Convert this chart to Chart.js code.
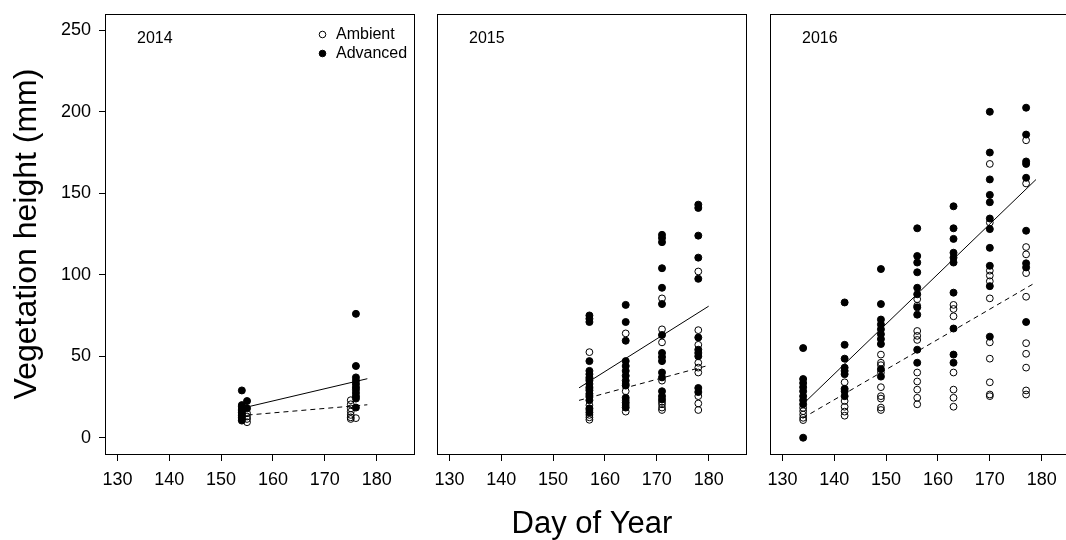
<!DOCTYPE html>
<html>
<head>
<meta charset="utf-8">
<script src="https://cdn.jsdelivr.net/npm/chart.js@4.4.1/dist/chart.umd.min.js"></script>
<style>
html, body { margin: 0; padding: 0; background: #fff; overflow: hidden; }
#wrap { position: relative; width: 1066px; height: 540px; overflow: hidden; }
canvas { position: absolute; top: 0; }
</style>
</head>
<body>
<div id="wrap">
	<canvas id="panel_2014" width="422" height="540" style="left:0px"></canvas>
	<canvas id="panel_2015" width="338" height="540" style="left:422px"></canvas>
	<canvas id="panel_2016" width="330" height="540" style="left:760px"></canvas>
</div>
<script>
var dayTicks = [130, 140, 150, 160, 170, 180];
var heightTicks = [0, 50, 100, 150, 200, 250];
var seriesNames = ['Ambient', 'Advanced'];

// each entry: [day of year, [heights in mm]]
var amb2014 = [
	[155, [15, 13, 11.5, 9.5]],
	[175, [23, 20.5, 18, 16, 14, 12.5, 11.5]],
	[176, [12]]
];
var adv2014 = [
	[154, [29, 20, 19, 17.5, 16.5, 15.5, 14.5, 13.5, 12.5, 11.5, 10.5]],
	[155, [22.5, 18]],
	[176, [76, 44, 37, 35, 33, 31, 29.5, 27.5, 25.5, 24, 18.5]]
];
var ambFit2014 = [[155.1, 13.9], [178.2, 20.2]];
var advFit2014 = [[155.1, 18.9], [178.2, 36.2]];

var amb2015 = [
	[157, [52.5, 36, 30, 26, 20, 17, 14, 12.5, 11]],
	[164, [64, 33, 28.5, 23, 20, 16]],
	[171, [85.5, 66.5, 58.5, 35, 22, 20.5, 18.5, 17]],
	[178, [102, 66, 57, 46, 43, 40, 25.5, 21, 17]]
];
var adv2015 = [
	[157, [75, 73, 71, 47, 41, 39, 37, 35, 33, 31, 29, 27, 25, 23, 18, 15.5]],
	[164, [81.5, 71, 59.5, 47, 44, 41, 38, 35, 32, 24.5, 21.5, 18.5]],
	[171, [124.5, 122.5, 120, 104, 92, 82, 63, 52, 49.5, 47, 40, 37, 28.5, 25.5, 23.5]],
	[178, [143, 141, 124, 110.5, 97.5, 61.5, 54, 52, 50, 30.5, 28]]
];
var ambFit2015 = [[155, 22.9], [180, 44.4]];
var advFit2015 = [[155, 30.6], [180, 80.7]];

var amb2016 = [
	[134, [18.3, 16.3, 14.2, 12.2, 10.8]],
	[142, [34, 22.5, 19, 16, 13.5]],
	[149, [51, 46, 44.5, 40, 31, 25.5, 24, 18.5, 17]],
	[156, [85, 81, 65.5, 62.5, 60, 40, 34.5, 29.5, 24.5, 20.5]],
	[163, [81.5, 79, 74.5, 40, 29.5, 24.5, 19]],
	[170, [168, 132, 102.5, 99.5, 96, 85.5, 58.5, 48.5, 34, 26.5, 25.5]],
	[177, [182.5, 156, 117, 112.5, 101, 86.5, 58, 51.5, 43, 29, 26.5]]
];
var adv2016 = [
	[134, [55, 36, 33.5, 31, 28.5, 25.5, 23, 20.5, 0]],
	[142, [83, 57, 48.5, 43, 41, 39, 30, 28.5, 25.5]],
	[149, [103.5, 82, 72.5, 69.5, 66.5, 63.5, 60.5, 57.5, 42, 37.5]],
	[156, [128.5, 111.5, 107.5, 101.5, 92, 88, 80, 75.5, 54, 46]],
	[163, [142, 128.5, 122, 113.5, 110.5, 107.5, 89, 67, 51, 46]],
	[170, [200, 175, 158.5, 149, 144.5, 134.5, 128, 116.5, 105.5, 93, 62]],
	[177, [202.5, 186, 169.5, 168, 159.5, 127, 107, 104.5, 71]]
];
var ambFit2016 = [[133.9, 12.0], [178.6, 94.8]];
var advFit2016 = [[133.9, 20.4], [178.9, 158.4]];

var FONT = '"Liberation Sans", Arial, sans-serif';

function expand_points(cols) {
	var pts = [];
	for (var i = 0; i < cols.length; i++) {
		for (var j = 0; j < cols[i][1].length; j++) {
			pts.push({x: cols[i][0], y: cols[i][1][j]});
		}
	}
	return pts;
}
function line_points(pairs) {
	return pairs.map(function(p) { return {x: p[0], y: p[1]}; });
}

// box round the plot region, like R's box()
var framePlugin = {
	id: 'frame',
	afterDraw: function(chart) {
		var a = chart.chartArea, ctx = chart.ctx;
		ctx.save();
		ctx.strokeStyle = '#000';
		ctx.lineWidth = 1;
		ctx.strokeRect(a.left - 0.5, a.top + 0.5, a.right - a.left + 1, a.bottom - a.top);
		ctx.restore();
	}
};

var yearPlugin = {
	id: 'yearLabel',
	afterDraw: function(chart) {
		var a = chart.chartArea, ctx = chart.ctx;
		ctx.save();
		ctx.fillStyle = '#000';
		ctx.font = '16px ' + FONT;
		ctx.textBaseline = 'middle';
		ctx.textAlign = 'left';
		ctx.fillText(chart.options.plugins.yearLabel.text, a.left + 31, a.top + 25);
		ctx.restore();
	}
};

var keyPlugin = {
	id: 'key',
	afterDraw: function(chart) {
		if (!chart.options.plugins.key.show) return;
		var a = chart.chartArea, ctx = chart.ctx;
		ctx.save();
		ctx.font = '16px ' + FONT;
		ctx.textBaseline = 'middle';
		ctx.textAlign = 'left';
		for (var i = 0; i < seriesNames.length; i++) {
			var y = a.top + 20.5 + i * 19;
			ctx.beginPath();
			ctx.arc(a.right - 91.5, y, 3.3, 0, Math.PI * 2);
			ctx.lineWidth = 1;
			ctx.strokeStyle = '#000';
			if (i == 1) { ctx.fillStyle = '#000'; ctx.fill(); }
			ctx.stroke();
			ctx.fillStyle = '#000';
			ctx.fillText(seriesNames[i], a.right - 78, y + 0.5);
		}
		ctx.restore();
	}
};

function make_panel(canvasId, year, amb, adv, ambFit, advFit, showY, showXTitle, padLeft, padRight) {
	var ctx = document.getElementById(canvasId).getContext('2d');

	var datasets = [];
	datasets.push({label: 'Advanced fit', data: line_points(advFit), showLine: true, borderColor: '#000',
		borderWidth: 1, pointRadius: 0, fill: false, order: 0});
	datasets.push({label: 'Ambient fit', data: line_points(ambFit), showLine: true, borderColor: '#000',
		borderWidth: 1, borderDash: [5, 4], pointRadius: 0, fill: false, order: 1});
	datasets.push({label: seriesNames[1], data: expand_points(adv), pointRadius: 3.5, pointStyle: 'circle',
		backgroundColor: '#000', borderColor: '#000', borderWidth: 1, order: 2});
	datasets.push({label: seriesNames[0], data: expand_points(amb), pointRadius: 3.4, pointStyle: 'circle',
		backgroundColor: 'rgba(0,0,0,0)', borderColor: '#000', borderWidth: 1, order: 3});

	var tickFont = {family: FONT, size: 18};
	var opts = {
		responsive: false,
		animation: false,
		events: [],
		layout: {padding: {top: 14, bottom: 0, left: padLeft, right: padRight}},
		plugins: {
			legend: {display: false},
			tooltip: {enabled: false},
			yearLabel: {text: year},
			key: {show: showY}
		},
		scales: {
			x: {
				type: 'linear', min: 127.8, max: 187.2,
				afterBuildTicks: function(s) { s.ticks = dayTicks.map(function(v) { return {value: v}; }); },
				afterFit: function(s) {
					s.height = 86;
					s.paddingLeft = 0; s.paddingRight = 0;
				},
				grid: {display: true, drawOnChartArea: false, drawTicks: true, tickLength: 7, color: '#000', lineWidth: 1},
				border: {display: false},
				ticks: {font: tickFont, color: '#000', padding: 8, maxRotation: 0, autoSkip: false},
				title: {display: showXTitle, text: 'Day of Year', color: '#000',
					font: {family: FONT, size: 31, lineHeight: 1}, padding: {top: 0, bottom: 0}}
			},
			y: {
				type: 'linear', min: -10, max: 260, display: showY,
				afterBuildTicks: function(s) { s.ticks = heightTicks.map(function(v) { return {value: v}; }); },
				afterFit: function(s) {
					if (showY) s.width = 106;
					s.paddingTop = 0; s.paddingBottom = 0;
				},
				grid: {display: true, drawOnChartArea: false, drawTicks: true, tickLength: 7, color: '#000', lineWidth: 1},
				border: {display: false},
				ticks: {font: tickFont, color: '#000', padding: 8},
				title: {display: true, text: 'Vegetation height (mm)', color: '#000',
					font: {family: FONT, size: 32, lineHeight: 1}, padding: {top: 11, bottom: 0}}
			}
		}
	};

	return new Chart(ctx, {
		type: 'scatter',
		data: {datasets: datasets},
		options: opts,
		plugins: [framePlugin, yearPlugin, keyPlugin]
	});
}

make_panel('panel_2014', '2014', amb2014, adv2014, ambFit2014, advFit2014, true, false, 0, 8);
make_panel('panel_2015', '2015', amb2015, adv2015, ambFit2015, advFit2015, false, true, 16, 14);
make_panel('panel_2016', '2016', amb2016, adv2016, ambFit2016, advFit2016, false, false, 11, 11);
</script>
</body>
</html>
